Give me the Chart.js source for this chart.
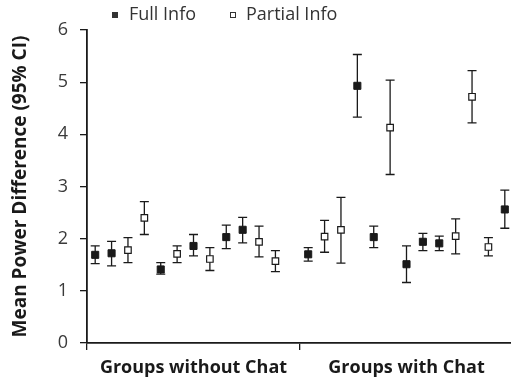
<!DOCTYPE html>
<html>
<head>
  <meta charset="utf-8" />
  <title>Mean Power Difference</title>
  <script src="https://cdn.jsdelivr.net/npm/chart.js"></script>
  <style>
    html, body { margin: 0; padding: 0; overflow: hidden; background: #fff; }
    #wrap { width: 520px; height: 382px; }
  </style>
</head>
<body>
  <div id="wrap"><canvas id="chart"></canvas></div>
  <script>
    // one slot per session, 13 slots per group, null = no point in that slot
    var groupLabels = ['Groups without Chat', 'Groups with Chat'];
    var slotsPerGroup = 13;
    var yTicks = [0, 1, 2, 3, 4, 5, 6];

    var fullMean  = [1.69, 1.72, null, null, 1.41, null, 1.86, null, 2.03, 2.17, null, null, null, 1.70, null, null, 4.93, 2.03, null, 1.51, 1.94, 1.91, null, null, null, 2.56];
    var fullLow   = [1.52, 1.48, null, null, 1.32, null, 1.67, null, 1.81, 1.92, null, null, null, 1.57, null, null, 4.33, 1.83, null, 1.16, 1.77, 1.77, null, null, null, 2.20];
    var fullHigh  = [1.86, 1.95, null, null, 1.54, null, 2.08, null, 2.26, 2.41, null, null, null, 1.83, null, null, 5.53, 2.24, null, 1.86, 2.10, 2.05, null, null, null, 2.93];

    var partialMean = [null, null, 1.78, 2.40, null, 1.71, null, 1.61, null, null, 1.94, 1.57, null, null, 2.04, 2.17, null, null, 4.13, null, null, null, 2.05, 4.72, 1.84, null];
    var partialLow  = [null, null, 1.54, 2.08, null, 1.54, null, 1.39, null, null, 1.65, 1.37, null, null, 1.74, 1.53, null, null, 3.23, null, null, null, 1.71, 4.22, 1.67, null];
    var partialHigh = [null, null, 2.02, 2.71, null, 1.86, null, 1.83, null, null, 2.24, 1.77, null, null, 2.35, 2.79, null, null, 5.04, null, null, null, 2.38, 5.22, 2.02, null];

    var FONT = "'Open Sans', sans-serif";
    var INK = '#1a1a1a';

    function toPoints(mean, low, high) {
      var pts = [];
      mean.forEach(function (v, i) {
        if (v === null) return;
        pts.push({ x: i + 0.5, y: v, lo: low[i], hi: high[i] });
      });
      return pts;
    }

    var nSlots = groupLabels.length * slotsPerGroup;

    // whiskers drawn under the markers
    var errorBars = {
      id: 'errorBars',
      beforeDatasetsDraw: function (chart) {
        var ctx = chart.ctx, y = chart.scales.y;
        ctx.save();
        ctx.strokeStyle = INK;
        ctx.lineWidth = 1.3;
        chart.data.datasets.forEach(function (ds, di) {
          chart.getDatasetMeta(di).data.forEach(function (pt, j) {
            var raw = ds.data[j];
            var yl = y.getPixelForValue(raw.lo), yh = y.getPixelForValue(raw.hi);
            ctx.beginPath();
            ctx.moveTo(pt.x, yl); ctx.lineTo(pt.x, yh);
            ctx.moveTo(pt.x - 4.5, yl); ctx.lineTo(pt.x + 4.5, yl);
            ctx.moveTo(pt.x - 4.5, yh); ctx.lineTo(pt.x + 4.5, yh);
            ctx.stroke();
          });
        });
        ctx.restore();
      }
    };

    // small legend above the plot
    var topLegend = {
      id: 'topLegend',
      afterDraw: function (chart) {
        var ctx = chart.ctx;
        ctx.save();
        ctx.font = '18px ' + FONT;
        ctx.fillStyle = '#333';
        ctx.textBaseline = 'middle';
        ctx.fillRect(112, 12, 6, 6);
        ctx.fillText(chart.data.datasets[0].label, 129, 15);
        ctx.strokeStyle = '#333';
        ctx.lineWidth = 1;
        ctx.strokeRect(230.5, 12.5, 5, 5);
        ctx.fillText(chart.data.datasets[1].label, 246, 15);
        ctx.restore();
      }
    };

    new Chart(document.getElementById('chart'), {
      type: 'scatter',
      data: {
        datasets: [{
          label: 'Full Info',
          data: toPoints(fullMean, fullLow, fullHigh),
          pointStyle: 'rect',
          pointRadius: 5,
          backgroundColor: INK,
          borderColor: INK,
          borderWidth: 1,
          clip: false
        }, {
          label: 'Partial Info',
          data: toPoints(partialMean, partialLow, partialHigh),
          pointStyle: 'rect',
          pointRadius: 4.6,
          backgroundColor: '#fff',
          borderColor: INK,
          borderWidth: 1.2,
          clip: false
        }]
      },
      options: {
        responsive: true,
        maintainAspectRatio: false,
        animation: false,
        layout: { padding: { top: 30, right: 1, bottom: 0, left: 0 } },
        plugins: { legend: { display: false }, tooltip: { enabled: false } },
        scales: {
          x: {
            type: 'linear',
            min: 0,
            max: nSlots,
            afterBuildTicks: function (scale) {
              var t = [];
              for (var g = 0; g <= groupLabels.length; g++) {
                t.push({ value: g * slotsPerGroup });
                if (g < groupLabels.length) t.push({ value: g * slotsPerGroup + slotsPerGroup / 2 });
              }
              scale.ticks = t;
            },
            afterFit: function (scale) { scale.height = 39; },
            ticks: {
              autoSkip: false,
              maxRotation: 0,
              padding: 7,
              color: INK,
              font: { family: FONT, size: 18, weight: 'bold' },
              callback: function (v) {
                var g = (v - slotsPerGroup / 2) / slotsPerGroup;
                return Number.isInteger(g) ? groupLabels[g] : '';
              }
            },
            grid: {
              drawOnChartArea: false,
              tickLength: 7,
              lineWidth: 1.3,
              color: function (c) {
                return c.tick && c.tick.value % slotsPerGroup === 0 ? INK : 'rgba(0,0,0,0)';
              }
            },
            border: { color: INK, width: 1.8 }
          },
          y: {
            min: 0,
            max: 6,
            afterBuildTicks: function (scale) {
              scale.ticks = yTicks.map(function (v) { return { value: v }; });
            },
            afterFit: function (scale) { scale.width = 87; },
            ticks: {
              padding: 12,
              color: '#3a3a3a',
              font: { family: FONT, size: 18 }
            },
            grid: { drawOnChartArea: false, tickLength: 7, lineWidth: 1.3, color: INK },
            border: { color: INK, width: 1.8 },
            title: {
              display: true,
              text: 'Mean Power Difference (95% CI)',
              color: INK,
              padding: { top: 9, bottom: 0 },
              font: { family: FONT, size: 19, weight: 'bold' }
            }
          }
        }
      },
      plugins: [errorBars, topLegend]
    });
  </script>
</body>
</html>
